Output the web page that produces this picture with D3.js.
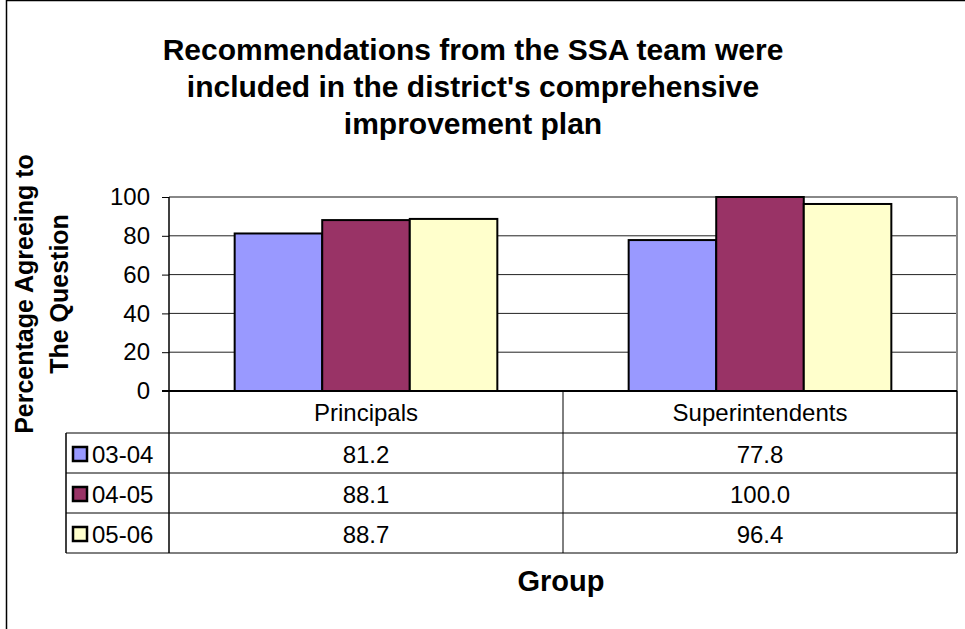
<!DOCTYPE html>
<html>
<head>
<meta charset="utf-8">
<script src="https://cdn.jsdelivr.net/npm/d3@7"></script>
<style>
  body { margin: 0; background: #fff; }
  text { font-family: "Liberation Sans", Arial, sans-serif; fill: #000; }
</style>
</head>
<body>
<script>
// chart data
var groups = ['Principals', 'Superintendents'];
var years = ['03-04', '04-05', '05-06'];
var vals0304 = [81.2, 77.8];
var vals0405 = [88.1, 100.0];
var vals0506 = [88.7, 96.4];
var yTicks = [0, 20, 40, 60, 80, 100];
var titleLines = ['Recommendations from the SSA team were', "included in the district's comprehensive", 'improvement plan'];
var yTitleLines = ['Percentage Agreeing to', 'The Question'];

var colors = ['#9999ff', '#993366', '#ffffcc'];
var series = [vals0304, vals0405, vals0506];

var W = 965, H = 629;
var plot = { left: 169, right: 957, top: 197, bottom: 391 };
var rowH = 40;

var svg = d3.select('body').append('svg')
  .attr('width', W).attr('height', H);

// outer chart frame
svg.append('rect')
  .attr('x', 6.5).attr('y', 0.5).attr('width', W + 10).attr('height', H + 10)
  .attr('fill', 'none').attr('stroke', '#000').attr('stroke-width', 1.5);

var x0 = d3.scaleBand().domain(groups).range([plot.left, plot.right]);
var x1 = d3.scaleBand().domain(years).range([0, x0.bandwidth()]).paddingOuter(0.75);
var y = d3.scaleLinear().domain([0, 100]).range([plot.bottom, plot.top]);

// title
svg.append('text')
  .attr('text-anchor', 'middle')
  .style('font-size', '30px').style('font-weight', 'bold')
  .selectAll('tspan').data(titleLines).enter().append('tspan')
  .attr('x', 473).attr('y', function (d, i) { return 60 + i * 37; })
  .text(function (d) { return d; });

// gridlines
svg.append('g').selectAll('line').data(yTicks.slice(1)).enter().append('line')
  .attr('x1', plot.left).attr('x2', plot.right)
  .attr('y1', function (d) { return y(d); }).attr('y2', function (d) { return y(d); })
  .attr('stroke', function (d) { return d === 100 ? '#888' : '#222'; })
  .attr('stroke-width', function (d) { return d === 100 ? 2 : 1; });

// plot area right border
svg.append('line')
  .attr('x1', plot.right).attr('x2', plot.right)
  .attr('y1', plot.top).attr('y2', plot.bottom)
  .attr('stroke', '#888').attr('stroke-width', 2);

// bars
var bars = [];
series.forEach(function (s, si) {
  s.forEach(function (v, gi) { bars.push({ g: groups[gi], yr: years[si], v: v, c: colors[si] }); });
});
svg.append('g').selectAll('rect').data(bars).enter().append('rect')
  .attr('x', function (d) { return x0(d.g) + x1(d.yr); })
  .attr('y', function (d) { return y(d.v); })
  .attr('width', x1.bandwidth())
  .attr('height', function (d) { return y(0) - y(d.v); })
  .attr('fill', function (d) { return d.c; })
  .attr('stroke', '#000').attr('stroke-width', 2);

// y axis
var yAxis = d3.axisLeft(y).tickValues(yTicks).tickSize(7).tickPadding(12);
var ya = svg.append('g')
  .attr('transform', 'translate(' + plot.left + ',0)')
  .call(yAxis);
ya.select('.domain').remove();
ya.selectAll('.tick line').attr('stroke', '#000');
ya.selectAll('.tick text').style('font-size', '24px').attr('fill', '#000');

// axis line (continues down through table)
svg.append('line')
  .attr('x1', plot.left).attr('x2', plot.left)
  .attr('y1', plot.top).attr('y2', plot.bottom + rowH * 4 + 2)
  .attr('stroke', '#000').attr('stroke-width', 1.5);
svg.append('line')
  .attr('x1', plot.left - 7).attr('x2', plot.right)
  .attr('y1', plot.bottom).attr('y2', plot.bottom)
  .attr('stroke', '#000').attr('stroke-width', 2);

// data table
var tTop = plot.bottom;
var tLeft = 66;
var table = svg.append('g');
var hLines = [1, 2, 3, 4].map(function (i) { return tTop + 2 + i * rowH; });
table.selectAll('line.h').data(hLines).enter().append('line')
  .attr('x1', tLeft).attr('x2', plot.right)
  .attr('y1', function (d) { return d; }).attr('y2', function (d) { return d; })
  .attr('stroke', '#000').attr('stroke-width', 1);
table.append('line')
  .attr('x1', tLeft).attr('x2', tLeft)
  .attr('y1', hLines[0]).attr('y2', hLines[3])
  .attr('stroke', '#000').attr('stroke-width', 1.5);
table.append('line')
  .attr('x1', x0('Superintendents')).attr('x2', x0('Superintendents'))
  .attr('y1', tTop).attr('y2', hLines[3])
  .attr('stroke', '#000').attr('stroke-width', 1);
table.append('line')
  .attr('x1', plot.right).attr('x2', plot.right)
  .attr('y1', tTop).attr('y2', hLines[3])
  .attr('stroke', '#000').attr('stroke-width', 1.5);

// header row
table.selectAll('text.hdr').data(groups).enter().append('text')
  .attr('x', function (d) { return x0(d) + x0.bandwidth() / 2; })
  .attr('y', tTop + 22)
  .attr('dy', '0.35em')
  .attr('text-anchor', 'middle')
  .style('font-size', '24px')
  .text(function (d) { return d; });

// value rows
years.forEach(function (yr, si) {
  var cy = hLines[si] + 22;
  table.append('rect')
    .attr('x', 73).attr('y', cy - 8).attr('width', 14).attr('height', 14)
    .attr('fill', colors[si]).attr('stroke', '#000').attr('stroke-width', 2.5);
  table.append('text')
    .attr('x', 92).attr('y', cy).attr('dy', '0.35em')
    .style('font-size', '24px')
    .text(yr);
  table.selectAll(null).data(series[si]).enter().append('text')
    .attr('x', function (d, gi) { return x0(groups[gi]) + x0.bandwidth() / 2; })
    .attr('y', cy).attr('dy', '0.35em')
    .attr('text-anchor', 'middle')
    .style('font-size', '24px')
    .text(function (d) { return d.toFixed(1); });
});

// axis titles
svg.append('text')
  .attr('transform', 'rotate(-90)')
  .attr('text-anchor', 'middle')
  .style('font-size', '25px').style('font-weight', 'bold')
  .selectAll('tspan').data(yTitleLines).enter().append('tspan')
  .attr('x', -294).attr('y', function (d, i) { return 33 + i * 35; })
  .text(function (d) { return d; });

svg.append('text')
  .attr('x', 561).attr('y', 591)
  .attr('text-anchor', 'middle')
  .style('font-size', '29px').style('font-weight', 'bold')
  .text('Group');
</script>
</body>
</html>
